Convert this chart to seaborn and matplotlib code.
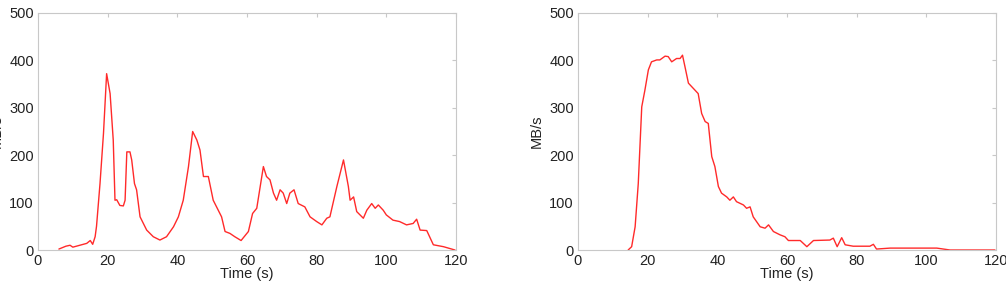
import matplotlib
matplotlib.use("Agg")
import matplotlib.pyplot as plt
import seaborn as sns
import pandas as pd

t_left = [6, 8, 9.2, 10, 12, 14, 15, 15.7, 16.4, 16.8, 17.8, 18.8, 19.7, 20.7, 21.6, 22.1, 22.6, 23.5,
          24.5, 25, 25.5, 26.4, 26.9, 27.7, 28.3, 29.3, 31.2, 33.1, 35, 36.9, 38.9, 40.3, 41.7, 43.2,
          44.4, 45.6, 46.5, 47.5, 48.9, 50.3, 52.7, 53.7, 55.1, 56.5, 58.3, 60.4, 61.6, 62.8, 64.7,
          65.6, 66.6, 67.6, 68.5, 69.5, 70.4, 71.4, 72.3, 73.5, 74.7, 76.6, 78.1, 80, 81.5, 82.9,
          83.8, 85.8, 87.7, 89.1, 89.6, 90.6, 91.5, 93.4, 94.4, 95.8, 96.8, 97.7, 99.1, 100, 101.9,
          103.8, 105.8, 107.7, 108.7, 109.7, 111.6, 113.5, 116.4, 119.7]
v_left = [2, 8, 10, 6, 10, 14, 20, 12, 28, 50, 140, 246, 372, 330, 232, 105, 106, 94,
          93, 105, 207, 207, 190, 140, 127, 70, 42, 28, 21, 28, 49, 70, 105, 176,
          250, 232, 211, 155, 155, 105, 70, 39, 35, 28, 20, 39, 77, 88, 176,
          155, 148, 120, 105, 127, 120, 98, 120, 127, 98, 91, 70, 60, 53, 67,
          70, 134, 190, 134, 105, 112, 81, 67, 84, 98, 88, 95, 84, 74, 63,
          60, 53, 56, 65, 42, 41, 11, 7, 0]

t_right = [14.4, 15.4, 16.4, 17.3, 18.3, 19.2, 20.2, 21.1, 22.6, 23.5, 25, 25.9, 26.9, 28.3, 29.3,
           30, 30.7, 31.7, 33.1, 34.5, 35.5, 36.5, 37.4, 38.4, 39.3, 40.3, 41.2, 42.7, 43.6, 44.6,
           45.5, 47.5, 48.4, 49.4, 50.3, 52.3, 53.7, 54.7, 56.1, 58, 59.4, 60.4, 63.8, 65.7, 67.6,
           72.3, 73.3, 74.4, 75.7, 76.7, 79, 83.8, 84.8, 85.7, 89.6, 103, 106.8, 119.7]
v_right = [0, 7, 49, 140, 302, 337, 380, 397, 401, 401, 409, 408, 397, 404, 404,
           411, 387, 352, 341, 330, 288, 271, 267, 197, 176, 134, 120, 112, 105, 112,
           102, 95, 88, 91, 70, 49, 46, 53, 39, 32, 28, 20, 20, 7, 20,
           21, 25, 7, 26, 11, 8, 8, 12, 2, 4, 4, 0, 0]

x_ticks = [0, 20, 40, 60, 80, 100, 120]
y_ticks = [0, 100, 200, 300, 400, 500]
x_label = "Time (s)"
y_label = "MB/s"

sns.set_style("white")
plt.rcParams['font.family'] = ['Liberation Sans', 'DejaVu Sans']

fig = plt.figure(figsize=(10.06, 2.84), dpi=100)
ax1 = fig.add_axes([38/1006, 1-250/284, 418/1006, 237/284])
ax2 = fig.add_axes([578/1006, 1-250/284, 418/1006, 237/284])

for ax, t, v in [(ax1, t_left, v_left), (ax2, t_right, v_right)]:
    df = pd.DataFrame({"t": t, "v": v})
    sns.lineplot(data=df, x="t", y="v", ax=ax, color="#ff2a2a", linewidth=1.0)
    ax.set_xlim(0, 120)
    ax.set_ylim(0, 500)
    ax.set_xticks(x_ticks)
    ax.set_yticks(y_ticks)
    ax.set_xlabel(x_label, fontsize=10.5, labelpad=-1, color="#222222")
    ax.set_ylabel(y_label, fontsize=10.5, labelpad=4, color="#222222")
    for s in ax.spines.values():
        s.set_color("#c8c8c8")
        s.set_linewidth(0.8)
    ax.tick_params(direction="in", length=3, width=0.8, color="#c8c8c8",
                   labelsize=10.5, labelcolor="#222222", top=True, right=True, pad=3)

fig.savefig("out.png", dpi=100)
